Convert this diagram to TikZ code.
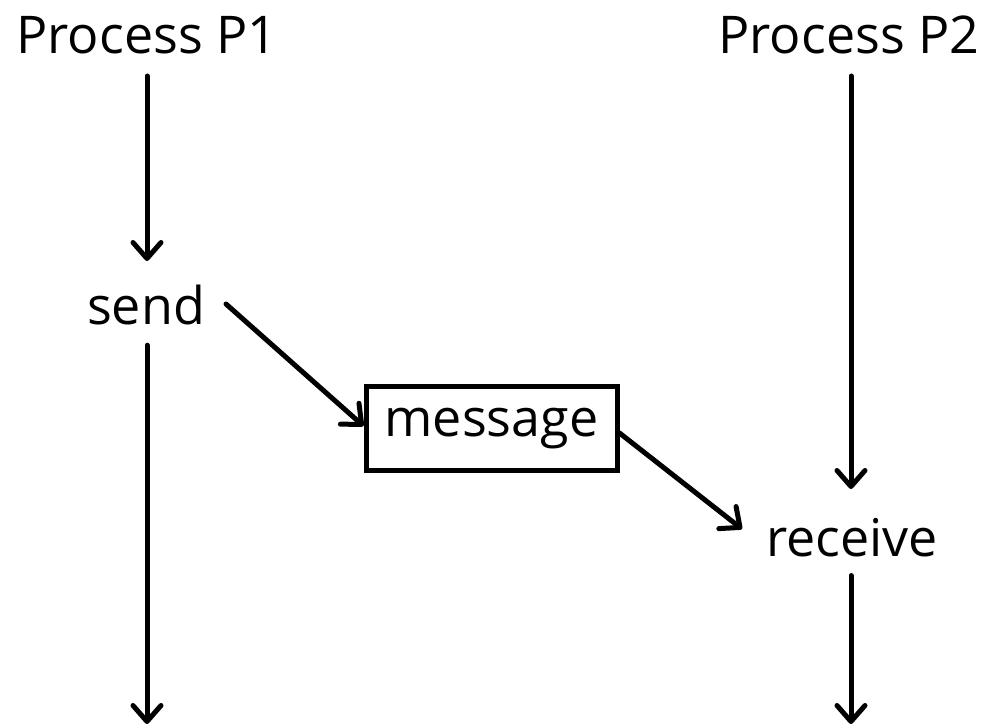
\documentclass[tikz,border=0pt]{standalone}
\usepackage{fontspec}
\setmainfont{Open Sans}
\usetikzlibrary{arrows.meta}
\begin{document}
\begin{tikzpicture}[x=1pt,y=-1pt,
  lbl/.style={inner sep=0pt,font=\fontsize{52}{60}\selectfont},
  msgbox/.style={draw,line width=5pt,minimum width=251pt,minimum height=83pt,inner sep=0pt,font=\fontsize{52}{60}\selectfont},
  arr/.style={line width=5pt,line cap=round,
    -{Straight Barb[length=16pt,width=28pt,round]}}]
\useasboundingbox (0,0) rectangle (986,727);
% process headers
\node[lbl] (p1) at (147,35) {Process P1};
\node[lbl] (p2) at (849,35) {Process P2};
% events
\node[lbl] (send) at (146,305) {send};
\node[lbl] (recv) at (852,538) {receive};
\node[msgbox] (msg) at (491.5,428.5) {message};
% free ends at the bottom of both time lines
\coordinate (e1) at (147,724);
\coordinate (e2) at (851,724);
% time lines
\draw[arr] (147,76) coordinate (t1) -- (147,261) coordinate (s1);
\draw[arr] (send.south -| t1) ++(0,20) -- (e1);
\draw[arr] (851,76) coordinate (t2) -- (851,489);
\draw[arr] (recv.south -| t2) ++(0,18) -- (e2);
% message passing
\draw[arr] (226,304) -- (msg.west |- 0,426);
\draw[arr] (msg.east |- 0,433) -- (742,529);
\end{tikzpicture}
\end{document}
